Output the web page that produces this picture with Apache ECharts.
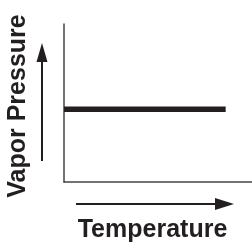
<!DOCTYPE html>
<html><head><meta charset="utf-8">
<script src="https://cdn.jsdelivr.net/npm/echarts@6/dist/echarts.min.js"></script>
<style>html,body{margin:0;padding:0;background:#fff}#c{width:252px;height:244px}</style>
</head><body><div id="c"></div>
<script>
const temperature = [0, 86];
const vaporPressure = [46, 46];
const xName = 'Temperature';
const yName = 'Vapor Pressure';

const chart = echarts.init(document.getElementById('c'), null, {renderer: 'canvas'});
const ink = '#231f20';
const font = 'bold 25px "Liberation Sans", Arial, sans-serif';
chart.setOption({
  animation: false,
  grid: {left: 64, right: 0, top: 24, bottom: 62},
  xAxis: {
    type: 'value', min: 0, max: 100,
    axisLine: {show: true, lineStyle: {color: '#444', width: 1.5}},
    axisTick: {show: false}, axisLabel: {show: false}, splitLine: {show: false}
  },
  yAxis: {
    type: 'value', min: 0, max: 100,
    axisLine: {show: true, lineStyle: {color: '#444', width: 1.5}},
    axisTick: {show: false}, axisLabel: {show: false}, splitLine: {show: false}
  },
  series: [{
    type: 'line',
    data: temperature.map((t, i) => [t, vaporPressure[i]]),
    showSymbol: false,
    lineStyle: {color: ink, width: 5.5}
  }],
  graphic: [
    {type: 'text', x: 152.5, y: 230, style: {text: xName, font: font, fill: ink, align: 'center', verticalAlign: 'middle'}},
    {type: 'text', x: 18.5, y: 106, rotation: Math.PI / 2, style: {text: yName, font: font, fill: ink, align: 'center', verticalAlign: 'middle'}},
    {type: 'line', shape: {x1: 42, y1: 161, x2: 42, y2: 60}, style: {stroke: ink, lineWidth: 2}},
    {type: 'polygon', shape: {points: [[42, 43], [36.5, 62], [47.5, 62]]}, style: {fill: ink}},
    {type: 'line', shape: {x1: 76, y1: 204, x2: 217, y2: 204}, style: {stroke: ink, lineWidth: 2}},
    {type: 'polygon', shape: {points: [[234, 204], [215, 198], [215, 210]]}, style: {fill: ink}}
  ]
});
</script></body></html>
